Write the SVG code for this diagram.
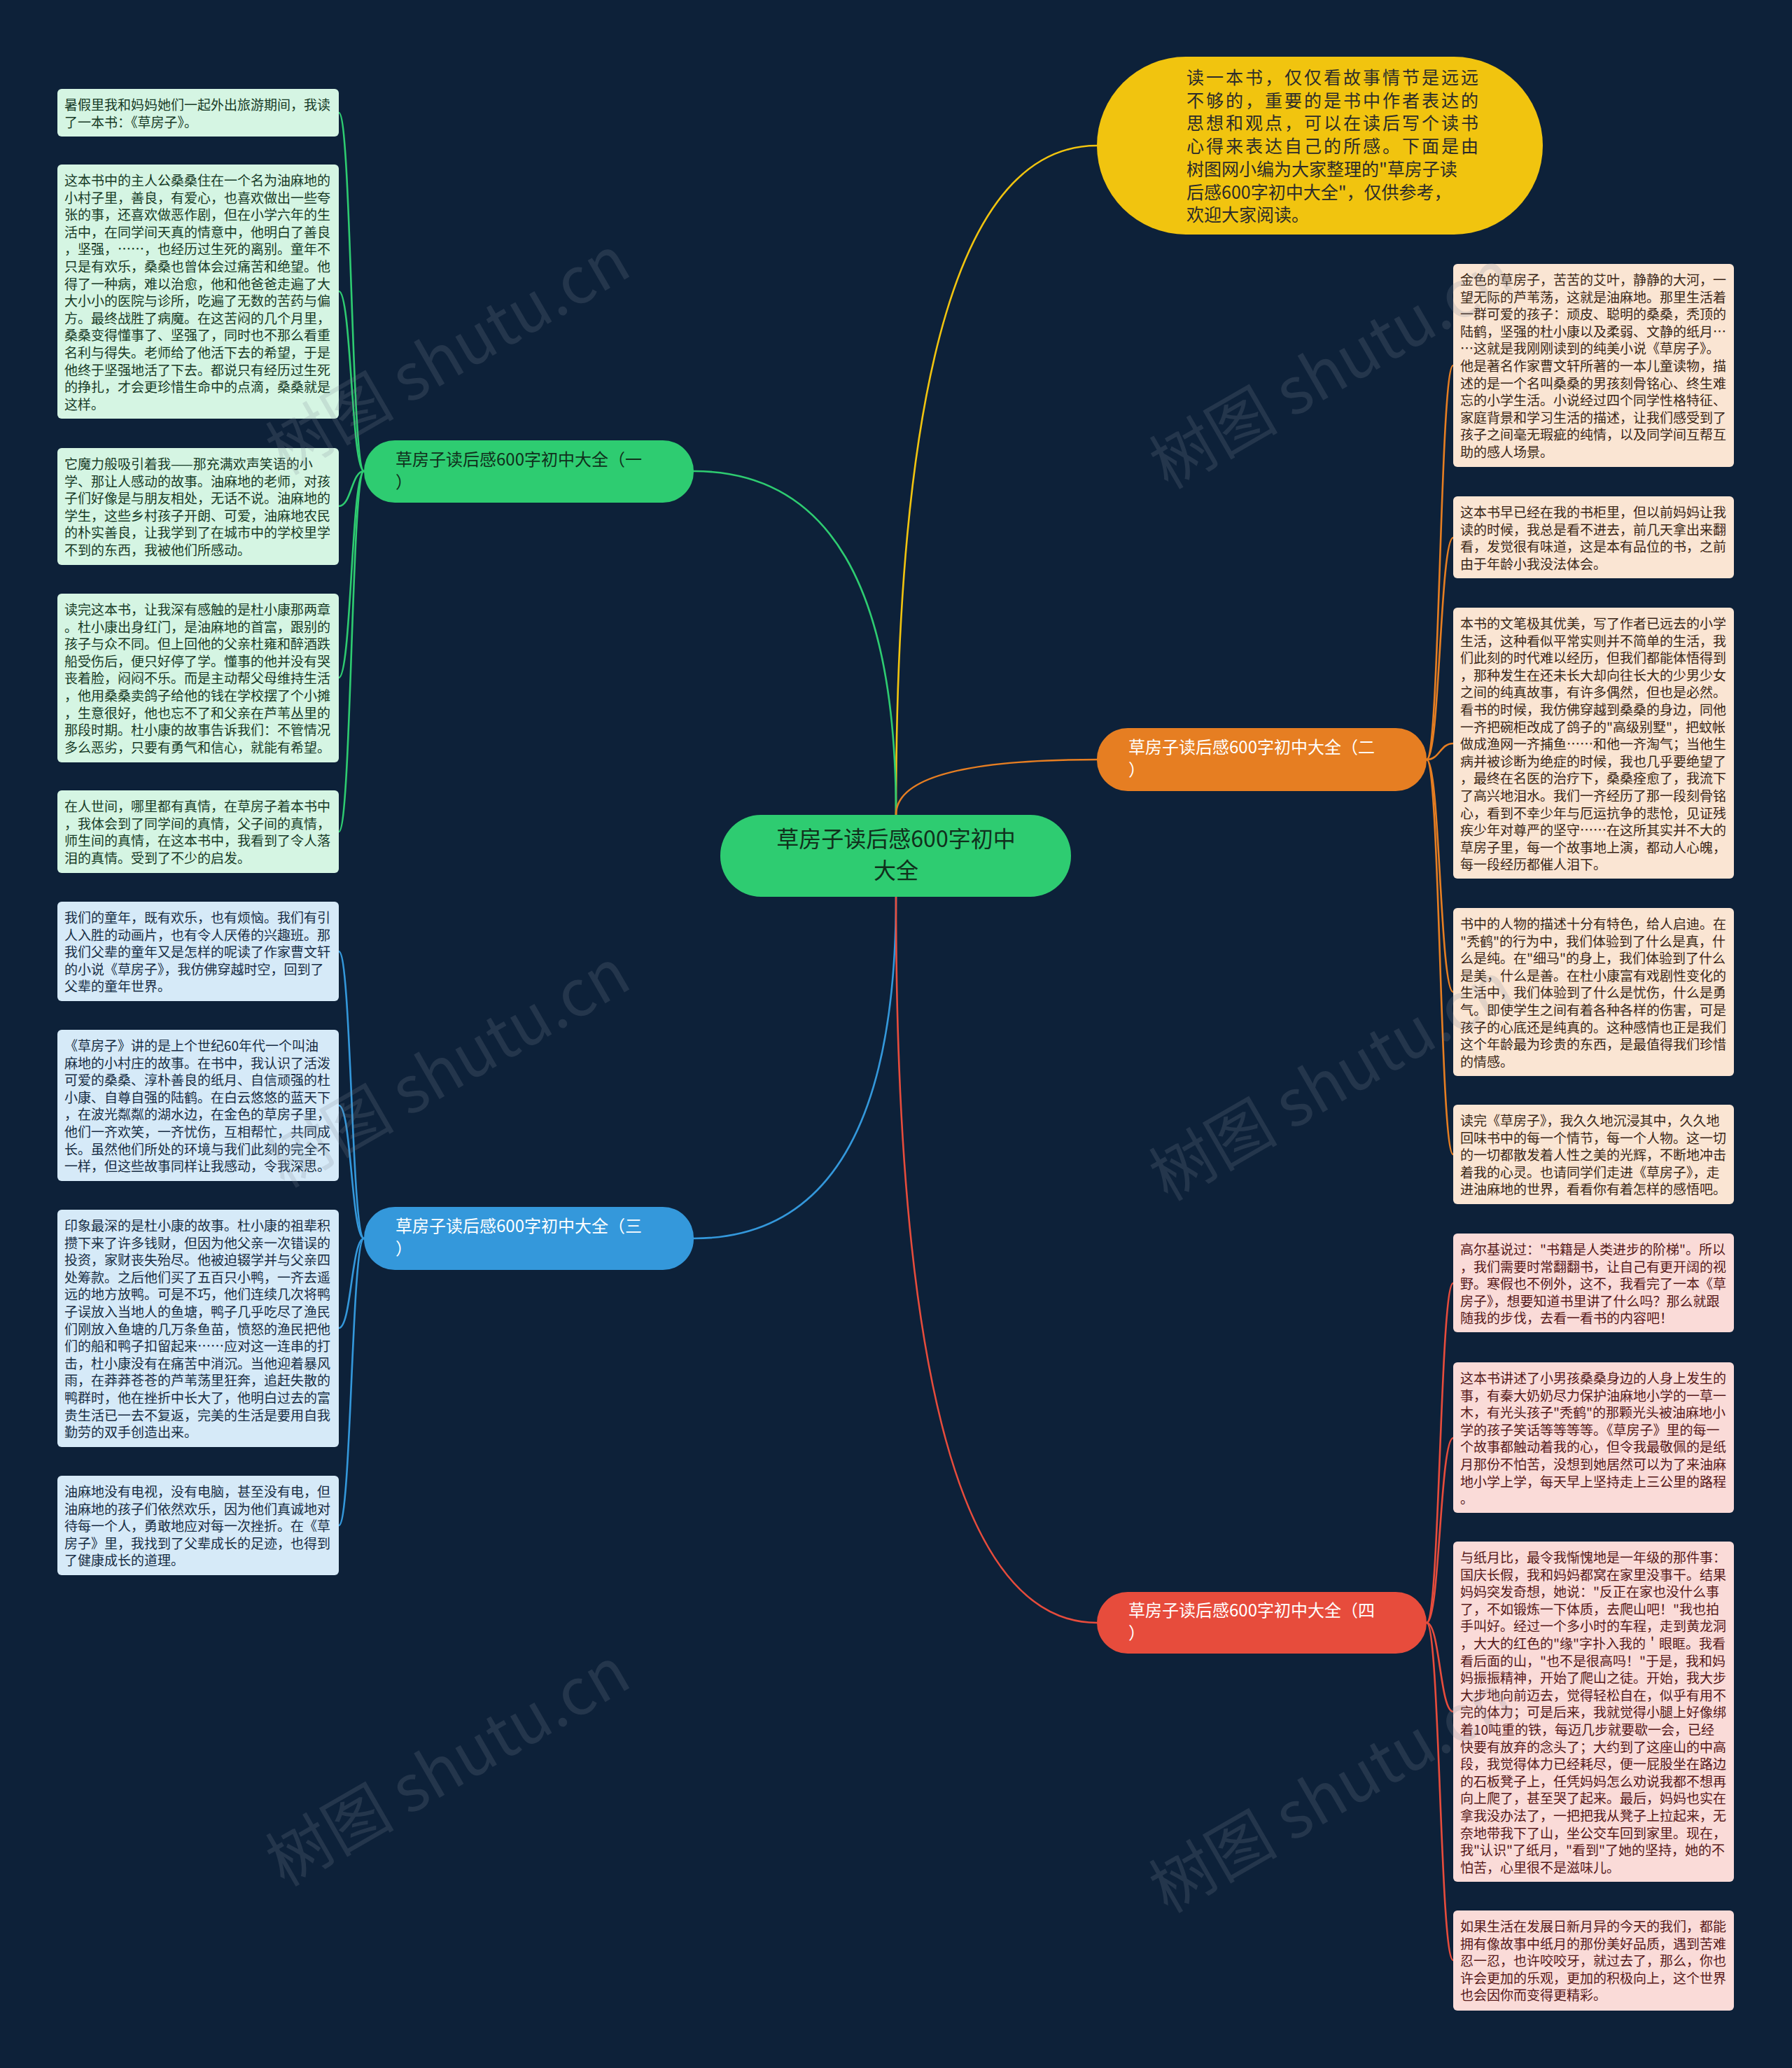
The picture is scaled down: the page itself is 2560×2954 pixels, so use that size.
<svg xmlns="http://www.w3.org/2000/svg" width="2560" height="2954" viewBox="0 0 2560 2954">
<style>
.t{font-family:"Noto Sans CJK SC","Noto Sans",sans-serif}
.lt{font-size:19px}
.lg{fill:#d5f5e3}.lb{fill:#d6eaf8}.lo{fill:#fae5d3}.lr{fill:#fadbd8}
.tg{fill:#173a26}.tb{fill:#172d44}.to{fill:#3a2616}.tr{fill:#561818}
.c{fill:none;stroke-width:2.6;stroke-linecap:round}
.wm{font-family:"Noto Sans CJK SC","Noto Sans",sans-serif;font-size:92px;fill:#808a98;opacity:0.2}
.ls3{letter-spacing:3px}.ls0{letter-spacing:0px}
</style>
<rect width="2560" height="2954" fill="#0d2139"/>
<g id="connectors">
<path class="c" stroke="#f1c40f" d="M1280 1164 Q1280 208 1567 208"/>
<path class="c" stroke="#2ecc71" d="M1280 1164 Q1280 673 991 673"/>
<path class="c" stroke="#e67e22" d="M1280 1164 Q1280 1085 1567 1085"/>
<path class="c" stroke="#3498db" d="M1280 1281 Q1280 1769 991 1769"/>
<path class="c" stroke="#e74c3c" d="M1280 1281 Q1280 2318 1567 2318"/>
<g stroke="#2ecc71">
<path class="c" d="M520 673 C502 673 502 161 484 161"/>
<path class="c" d="M520 673 C502 673 502 416 484 416"/>
<path class="c" d="M520 673 C502 673 502 723 484 723"/>
<path class="c" d="M520 673 C502 673 502 968 484 968"/>
<path class="c" d="M520 673 C502 673 502 1188 484 1188"/>
</g>
<g stroke="#3498db">
<path class="c" d="M520 1769 C502 1769 502 1359 484 1359"/>
<path class="c" d="M520 1769 C502 1769 502 1579 484 1579"/>
<path class="c" d="M520 1769 C502 1769 502 1897 484 1897"/>
<path class="c" d="M520 1769 C502 1769 502 2179 484 2179"/>
</g>
<g stroke="#e67e22">
<path class="c" d="M2038 1085 C2057 1085 2057 522 2076 522"/>
<path class="c" d="M2038 1085 C2057 1085 2057 768 2076 768"/>
<path class="c" d="M2038 1085 C2057 1085 2057 1062 2076 1062"/>
<path class="c" d="M2038 1085 C2057 1085 2057 1417 2076 1417"/>
<path class="c" d="M2038 1085 C2057 1085 2057 1649 2076 1649"/>
</g>
<g stroke="#e74c3c">
<path class="c" d="M2038 2318 C2057 2318 2057 1833 2076 1833"/>
<path class="c" d="M2038 2318 C2057 2318 2057 2054 2076 2054"/>
<path class="c" d="M2038 2318 C2057 2318 2057 2445 2076 2445"/>
<path class="c" d="M2038 2318 C2057 2318 2057 2800 2076 2800"/>
</g>
</g>
<g id="root">
<rect x="1029" y="1164" width="501" height="117" rx="58" fill="#2ecc71"/>
<text class="t" font-size="32" fill="#10301c" text-anchor="middle" x="1280" y="1210">草房子读后感600字初中<tspan x="1280" dy="45">大全</tspan></text>
</g>
<g id="intro">
<rect x="1567" y="81" width="637" height="254" rx="127" fill="#f1c40f"/>
<text class="t" font-size="25" fill="#2b2b2b" x="1695" y="120"><tspan class="ls3" x="1695">读一本书，仅仅看故事情节是远远</tspan><tspan class="ls3" x="1695" dy="32.7">不够的，重要的是书中作者表达的</tspan><tspan class="ls3" x="1695" dy="32.7">思想和观点，可以在读后写个读书</tspan><tspan class="ls3" x="1695" dy="32.7">心得来表达自己的所感。下面是由</tspan><tspan class="ls0" x="1695" dy="32.7">树图网小编为大家整理的"草房子读</tspan><tspan class="ls0" x="1695" dy="32.7">后感600字初中大全"，仅供参考，</tspan><tspan class="ls0" x="1695" dy="32.7">欢迎大家阅读。</tspan></text>
</g>
<g id="branch1">
<rect x="520" y="629" width="471" height="89" rx="44" fill="#2ecc71"/>
<text class="t" font-size="24" fill="#10301c" x="565" y="665">草房子读后感600字初中大全（一<tspan x="565" dy="32">）</tspan></text>
</g>
<g id="branch2">
<rect x="1567" y="1040" width="471" height="90" rx="44" fill="#e67e22"/>
<text class="t" font-size="24" fill="#ffffff" x="1612" y="1076">草房子读后感600字初中大全（二<tspan x="1612" dy="32">）</tspan></text>
</g>
<g id="branch3">
<rect x="520" y="1724" width="471" height="90" rx="44" fill="#3498db"/>
<text class="t" font-size="24" fill="#ffffff" x="565" y="1760">草房子读后感600字初中大全（三<tspan x="565" dy="32">）</tspan></text>
</g>
<g id="branch4">
<rect x="1567" y="2274" width="471" height="88" rx="44" fill="#e74c3c"/>
<text class="t" font-size="24" fill="#ffffff" x="1612" y="2309">草房子读后感600字初中大全（四<tspan x="1612" dy="32">）</tspan></text>
</g>
<g id="leaf-l1">
<rect class="lg" x="82" y="127" width="402" height="68" rx="6"/>
<text class="t lt tg" x="92" y="157">暑假里我和妈妈她们一起外出旅游期间，我读<tspan x="92" dy="24.6">了一本书：《草房子》。</tspan></text>
</g>
<g id="leaf-l2">
<rect class="lg" x="82" y="235" width="402" height="363" rx="6"/>
<text class="t lt tg" x="92" y="265">这本书中的主人公桑桑住在一个名为油麻地的<tspan x="92" dy="24.6">小村子里，善良，有爱心，也喜欢做出一些夸</tspan><tspan x="92" dy="24.6">张的事，还喜欢做恶作剧，但在小学六年的生</tspan><tspan x="92" dy="24.6">活中，在同学间天真的情意中，他明白了善良</tspan><tspan x="92" dy="24.6">，坚强，……，也经历过生死的离别。童年不</tspan><tspan x="92" dy="24.6">只是有欢乐，桑桑也曾体会过痛苦和绝望。他</tspan><tspan x="92" dy="24.6">得了一种病，难以治愈，他和他爸爸走遍了大</tspan><tspan x="92" dy="24.6">大小小的医院与诊所，吃遍了无数的苦药与偏</tspan><tspan x="92" dy="24.6">方。最终战胜了病魔。在这苦闷的几个月里，</tspan><tspan x="92" dy="24.6">桑桑变得懂事了、坚强了，同时也不那么看重</tspan><tspan x="92" dy="24.6">名利与得失。老师给了他活下去的希望，于是</tspan><tspan x="92" dy="24.6">他终于坚强地活了下去。都说只有经历过生死</tspan><tspan x="92" dy="24.6">的挣扎，才会更珍惜生命中的点滴，桑桑就是</tspan><tspan x="92" dy="24.6">这样。</tspan></text>
</g>
<g id="leaf-l3">
<rect class="lg" x="82" y="640" width="402" height="167" rx="6"/>
<text class="t lt tg" x="92" y="670">它魔力般吸引着我——那充满欢声笑语的小<tspan x="92" dy="24.6">学、那让人感动的故事。油麻地的老师，对孩</tspan><tspan x="92" dy="24.6">子们好像是与朋友相处，无话不说。油麻地的</tspan><tspan x="92" dy="24.6">学生，这些乡村孩子开朗、可爱，油麻地农民</tspan><tspan x="92" dy="24.6">的朴实善良，让我学到了在城市中的学校里学</tspan><tspan x="92" dy="24.6">不到的东西，我被他们所感动。</tspan></text>
</g>
<g id="leaf-l4">
<rect class="lg" x="82" y="848" width="402" height="241" rx="6"/>
<text class="t lt tg" x="92" y="878">读完这本书，让我深有感触的是杜小康那两章<tspan x="92" dy="24.6">。杜小康出身红门，是油麻地的首富，跟别的</tspan><tspan x="92" dy="24.6">孩子与众不同。但上回他的父亲杜雍和醉酒跌</tspan><tspan x="92" dy="24.6">船受伤后，便只好停了学。懂事的他并没有哭</tspan><tspan x="92" dy="24.6">丧着脸，闷闷不乐。而是主动帮父母维持生活</tspan><tspan x="92" dy="24.6">，他用桑桑卖鸽子给他的钱在学校摆了个小摊</tspan><tspan x="92" dy="24.6">，生意很好，他也忘不了和父亲在芦苇丛里的</tspan><tspan x="92" dy="24.6">那段时期。杜小康的故事告诉我们：不管情况</tspan><tspan x="92" dy="24.6">多么恶劣，只要有勇气和信心，就能有希望。</tspan></text>
</g>
<g id="leaf-l5">
<rect class="lg" x="82" y="1129" width="402" height="118" rx="6"/>
<text class="t lt tg" x="92" y="1159">在人世间，哪里都有真情，在草房子着本书中<tspan x="92" dy="24.6">，我体会到了同学间的真情，父子间的真情，</tspan><tspan x="92" dy="24.6">师生间的真情，在这本书中，我看到了令人落</tspan><tspan x="92" dy="24.6">泪的真情。受到了不少的启发。</tspan></text>
</g>
<g id="leaf-l6">
<rect class="lb" x="82" y="1288" width="402" height="142" rx="6"/>
<text class="t lt tb" x="92" y="1318">我们的童年，既有欢乐，也有烦恼。我们有引<tspan x="92" dy="24.6">人入胜的动画片，也有令人厌倦的兴趣班。那</tspan><tspan x="92" dy="24.6">我们父辈的童年又是怎样的呢读了作家曹文轩</tspan><tspan x="92" dy="24.6">的小说《草房子》，我仿佛穿越时空，回到了</tspan><tspan x="92" dy="24.6">父辈的童年世界。</tspan></text>
</g>
<g id="leaf-l7">
<rect class="lb" x="82" y="1471" width="402" height="216" rx="6"/>
<text class="t lt tb" x="92" y="1501">《草房子》讲的是上个世纪60年代一个叫油<tspan x="92" dy="24.6">麻地的小村庄的故事。在书中，我认识了活泼</tspan><tspan x="92" dy="24.6">可爱的桑桑、淳朴善良的纸月、自信顽强的杜</tspan><tspan x="92" dy="24.6">小康、自尊自强的陆鹤。在白云悠悠的蓝天下</tspan><tspan x="92" dy="24.6">，在波光粼粼的湖水边，在金色的草房子里，</tspan><tspan x="92" dy="24.6">他们一齐欢笑，一齐忧伤，互相帮忙，共同成</tspan><tspan x="92" dy="24.6">长。虽然他们所处的环境与我们此刻的完全不</tspan><tspan x="92" dy="24.6">一样，但这些故事同样让我感动，令我深思。</tspan></text>
</g>
<g id="leaf-l8">
<rect class="lb" x="82" y="1728" width="402" height="339" rx="6"/>
<text class="t lt tb" x="92" y="1758">印象最深的是杜小康的故事。杜小康的祖辈积<tspan x="92" dy="24.6">攒下来了许多钱财，但因为他父亲一次错误的</tspan><tspan x="92" dy="24.6">投资，家财丧失殆尽。他被迫辍学并与父亲四</tspan><tspan x="92" dy="24.6">处筹款。之后他们买了五百只小鸭，一齐去遥</tspan><tspan x="92" dy="24.6">远的地方放鸭。可是不巧，他们连续几次将鸭</tspan><tspan x="92" dy="24.6">子误放入当地人的鱼塘，鸭子几乎吃尽了渔民</tspan><tspan x="92" dy="24.6">们刚放入鱼塘的几万条鱼苗，愤怒的渔民把他</tspan><tspan x="92" dy="24.6">们的船和鸭子扣留起来……应对这一连串的打</tspan><tspan x="92" dy="24.6">击，杜小康没有在痛苦中消沉。当他迎着暴风</tspan><tspan x="92" dy="24.6">雨，在莽莽苍苍的芦苇荡里狂奔，追赶失散的</tspan><tspan x="92" dy="24.6">鸭群时，他在挫折中长大了，他明白过去的富</tspan><tspan x="92" dy="24.6">贵生活已一去不复返，完美的生活是要用自我</tspan><tspan x="92" dy="24.6">勤劳的双手创造出来。</tspan></text>
</g>
<g id="leaf-l9">
<rect class="lb" x="82" y="2108" width="402" height="142" rx="6"/>
<text class="t lt tb" x="92" y="2138">油麻地没有电视，没有电脑，甚至没有电，但<tspan x="92" dy="24.6">油麻地的孩子们依然欢乐，因为他们真诚地对</tspan><tspan x="92" dy="24.6">待每一个人，勇敢地应对每一次挫折。在《草</tspan><tspan x="92" dy="24.6">房子》里，我找到了父辈成长的足迹，也得到</tspan><tspan x="92" dy="24.6">了健康成长的道理。</tspan></text>
</g>
<g id="leaf-r1">
<rect class="lo" x="2076" y="377" width="401" height="290" rx="6"/>
<text class="t lt to" x="2086" y="407">金色的草房子，苦苦的艾叶，静静的大河，一<tspan x="2086" dy="24.6">望无际的芦苇荡，这就是油麻地。那里生活着</tspan><tspan x="2086" dy="24.6">一群可爱的孩子：顽皮、聪明的桑桑，秃顶的</tspan><tspan x="2086" dy="24.6">陆鹤，坚强的杜小康以及柔弱、文静的纸月…</tspan><tspan x="2086" dy="24.6">…这就是我刚刚读到的纯美小说《草房子》。</tspan><tspan x="2086" dy="24.6">他是著名作家曹文轩所著的一本儿童读物，描</tspan><tspan x="2086" dy="24.6">述的是一个名叫桑桑的男孩刻骨铭心、终生难</tspan><tspan x="2086" dy="24.6">忘的小学生活。小说经过四个同学性格特征、</tspan><tspan x="2086" dy="24.6">家庭背景和学习生活的描述，让我们感受到了</tspan><tspan x="2086" dy="24.6">孩子之间毫无瑕疵的纯情，以及同学间互帮互</tspan><tspan x="2086" dy="24.6">助的感人场景。</tspan></text>
</g>
<g id="leaf-r2">
<rect class="lo" x="2076" y="709" width="401" height="117" rx="6"/>
<text class="t lt to" x="2086" y="739">这本书早已经在我的书柜里，但以前妈妈让我<tspan x="2086" dy="24.6">读的时候，我总是看不进去，前几天拿出来翻</tspan><tspan x="2086" dy="24.6">看，发觉很有味道，这是本有品位的书，之前</tspan><tspan x="2086" dy="24.6">由于年龄小我没法体会。</tspan></text>
</g>
<g id="leaf-r3">
<rect class="lo" x="2076" y="868" width="401" height="387" rx="6"/>
<text class="t lt to" x="2086" y="898">本书的文笔极其优美，写了作者已远去的小学<tspan x="2086" dy="24.6">生活，这种看似平常实则并不简单的生活，我</tspan><tspan x="2086" dy="24.6">们此刻的时代难以经历，但我们都能体悟得到</tspan><tspan x="2086" dy="24.6">，那种发生在还未长大却向往长大的少男少女</tspan><tspan x="2086" dy="24.6">之间的纯真故事，有许多偶然，但也是必然。</tspan><tspan x="2086" dy="24.6">看书的时候，我仿佛穿越到桑桑的身边，同他</tspan><tspan x="2086" dy="24.6">一齐把碗柜改成了鸽子的"高级别墅"，把蚊帐</tspan><tspan x="2086" dy="24.6">做成渔网一齐捕鱼……和他一齐淘气；当他生</tspan><tspan x="2086" dy="24.6">病并被诊断为绝症的时候，我也几乎要绝望了</tspan><tspan x="2086" dy="24.6">，最终在名医的治疗下，桑桑痊愈了，我流下</tspan><tspan x="2086" dy="24.6">了高兴地泪水。我们一齐经历了那一段刻骨铭</tspan><tspan x="2086" dy="24.6">心，看到不幸少年与厄运抗争的悲怆，见证残</tspan><tspan x="2086" dy="24.6">疾少年对尊严的坚守……在这所其实并不大的</tspan><tspan x="2086" dy="24.6">草房子里，每一个故事地上演，都动人心魄，</tspan><tspan x="2086" dy="24.6">每一段经历都催人泪下。</tspan></text>
</g>
<g id="leaf-r4">
<rect class="lo" x="2076" y="1297" width="401" height="240" rx="6"/>
<text class="t lt to" x="2086" y="1327">书中的人物的描述十分有特色，给人启迪。在<tspan x="2086" dy="24.6">"秃鹤"的行为中，我们体验到了什么是真，什</tspan><tspan x="2086" dy="24.6">么是纯。在"细马"的身上，我们体验到了什么</tspan><tspan x="2086" dy="24.6">是美，什么是善。在杜小康富有戏剧性变化的</tspan><tspan x="2086" dy="24.6">生活中，我们体验到了什么是忧伤，什么是勇</tspan><tspan x="2086" dy="24.6">气。即使学生之间有着各种各样的伤害，可是</tspan><tspan x="2086" dy="24.6">孩子的心底还是纯真的。这种感情也正是我们</tspan><tspan x="2086" dy="24.6">这个年龄最为珍贵的东西，是最值得我们珍惜</tspan><tspan x="2086" dy="24.6">的情感。</tspan></text>
</g>
<g id="leaf-r5">
<rect class="lo" x="2076" y="1578" width="401" height="142" rx="6"/>
<text class="t lt to" x="2086" y="1608">读完《草房子》，我久久地沉浸其中，久久地<tspan x="2086" dy="24.6">回味书中的每一个情节，每一个人物。这一切</tspan><tspan x="2086" dy="24.6">的一切都散发着人性之美的光辉，不断地冲击</tspan><tspan x="2086" dy="24.6">着我的心灵。也请同学们走进《草房子》，走</tspan><tspan x="2086" dy="24.6">进油麻地的世界，看看你有着怎样的感悟吧。</tspan></text>
</g>
<g id="leaf-r6">
<rect class="lr" x="2076" y="1762" width="401" height="141" rx="6"/>
<text class="t lt tr" x="2086" y="1792">高尔基说过："书籍是人类进步的阶梯"。所以<tspan x="2086" dy="24.6">，我们需要时常翻翻书，让自己有更开阔的视</tspan><tspan x="2086" dy="24.6">野。寒假也不例外，这不，我看完了一本《草</tspan><tspan x="2086" dy="24.6">房子》，想要知道书里讲了什么吗？那么就跟</tspan><tspan x="2086" dy="24.6">随我的步伐，去看一看书的内容吧！</tspan></text>
</g>
<g id="leaf-r7">
<rect class="lr" x="2076" y="1946" width="401" height="215" rx="6"/>
<text class="t lt tr" x="2086" y="1976">这本书讲述了小男孩桑桑身边的人身上发生的<tspan x="2086" dy="24.6">事，有秦大奶奶尽力保护油麻地小学的一草一</tspan><tspan x="2086" dy="24.6">木，有光头孩子"秃鹤"的那颗光头被油麻地小</tspan><tspan x="2086" dy="24.6">学的孩子笑话等等等等。《草房子》里的每一</tspan><tspan x="2086" dy="24.6">个故事都触动着我的心，但令我最敬佩的是纸</tspan><tspan x="2086" dy="24.6">月那份不怕苦，没想到她居然可以为了来油麻</tspan><tspan x="2086" dy="24.6">地小学上学，每天早上坚持走上三公里的路程</tspan><tspan x="2086" dy="24.6">。</tspan></text>
</g>
<g id="leaf-r8">
<rect class="lr" x="2076" y="2202" width="401" height="486" rx="6"/>
<text class="t lt tr" x="2086" y="2232">与纸月比，最令我惭愧地是一年级的那件事：<tspan x="2086" dy="24.6">国庆长假，我和妈妈都窝在家里没事干。结果</tspan><tspan x="2086" dy="24.6">妈妈突发奇想，她说："反正在家也没什么事</tspan><tspan x="2086" dy="24.6">了，不如锻炼一下体质，去爬山吧！"我也拍</tspan><tspan x="2086" dy="24.6">手叫好。经过一个多小时的车程，走到黄龙洞</tspan><tspan x="2086" dy="24.6">，大大的红色的"缘"字扑入我的＇眼眶。我看</tspan><tspan x="2086" dy="24.6">看后面的山，"也不是很高吗！"于是，我和妈</tspan><tspan x="2086" dy="24.6">妈振振精神，开始了爬山之徒。开始，我大步</tspan><tspan x="2086" dy="24.6">大步地向前迈去，觉得轻松自在，似乎有用不</tspan><tspan x="2086" dy="24.6">完的体力；可是后来，我就觉得小腿上好像绑</tspan><tspan x="2086" dy="24.6">着10吨重的铁，每迈几步就要歇一会，已经</tspan><tspan x="2086" dy="24.6">快要有放弃的念头了；大约到了这座山的中高</tspan><tspan x="2086" dy="24.6">段，我觉得体力已经耗尽，便一屁股坐在路边</tspan><tspan x="2086" dy="24.6">的石板凳子上，任凭妈妈怎么劝说我都不想再</tspan><tspan x="2086" dy="24.6">向上爬了，甚至哭了起来。最后，妈妈也实在</tspan><tspan x="2086" dy="24.6">拿我没办法了，一把把我从凳子上拉起来，无</tspan><tspan x="2086" dy="24.6">奈地带我下了山，坐公交车回到家里。现在，</tspan><tspan x="2086" dy="24.6">我"认识"了纸月，"看到"了她的坚持，她的不</tspan><tspan x="2086" dy="24.6">怕苦，心里很不是滋味儿。</tspan></text>
</g>
<g id="leaf-r9">
<rect class="lr" x="2076" y="2729" width="401" height="143" rx="6"/>
<text class="t lt tr" x="2086" y="2759">如果生活在发展日新月异的今天的我们，都能<tspan x="2086" dy="24.6">拥有像故事中纸月的那份美好品质，遇到苦难</tspan><tspan x="2086" dy="24.6">忍一忍，也许咬咬牙，就过去了，那么，你也</tspan><tspan x="2086" dy="24.6">许会更加的乐观，更加的积极向上，这个世界</tspan><tspan x="2086" dy="24.6">也会因你而变得更精彩。</tspan></text>
</g>
<g id="watermarks">
<text class="wm" x="640" y="540" text-anchor="middle" transform="rotate(-30 640 508)">树图 shutu.cn</text>
<text class="wm" x="1902" y="560" text-anchor="middle" transform="rotate(-30 1902 527)">树图 shutu.cn</text>
<text class="wm" x="640" y="1558" text-anchor="middle" transform="rotate(-30 640 1526)">树图 shutu.cn</text>
<text class="wm" x="1902" y="1577" text-anchor="middle" transform="rotate(-30 1902 1545)">树图 shutu.cn</text>
<text class="wm" x="640" y="2556" text-anchor="middle" transform="rotate(-30 640 2524)">树图 shutu.cn</text>
<text class="wm" x="1902" y="2594" text-anchor="middle" transform="rotate(-30 1902 2562)">树图 shutu.cn</text>
</g>
</svg>
